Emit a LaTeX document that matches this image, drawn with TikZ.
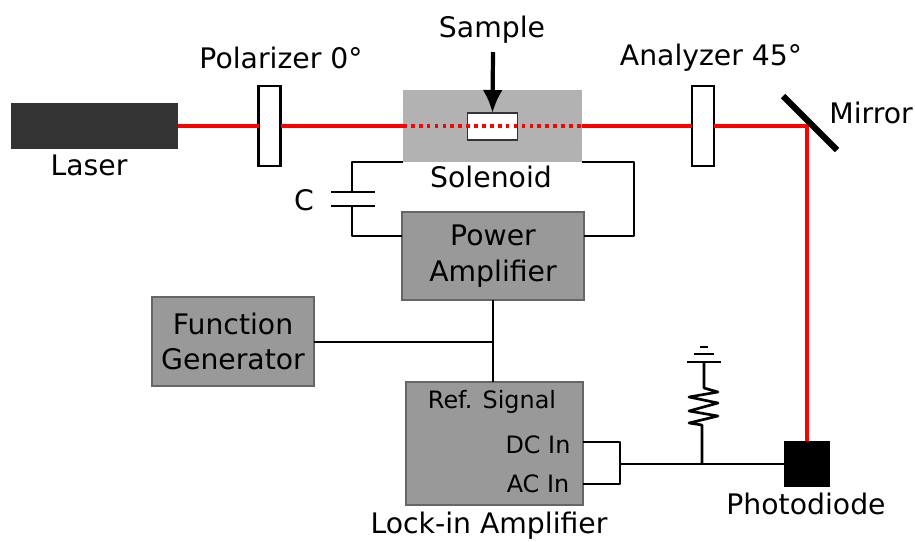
\documentclass[tikz,border=0pt]{standalone}
\usepackage{fontspec}
\usetikzlibrary{arrows.meta}
\setmainfont{DejaVu Sans}
\begin{document}
\begin{tikzpicture}[
  x=0.02cm, y=-0.02cm,
  lbl/.style={inner sep=0pt, align=center, font=\fontsize{16.1pt}{20.4pt}\selectfont},
  smalllbl/.style={inner sep=0pt, font=\fontsize{13.6pt}{16pt}\selectfont},
  graybox/.style={rectangle, draw=black!60, line width=0.6pt, fill=black!40, inner sep=0pt, outer sep=0pt, align=center,
    font=\fontsize{16.1pt}{20.4pt}\selectfont},
  plate/.style={rectangle, draw=black, line width=1.4pt, fill=white, inner sep=0pt, outer sep=0pt,
    minimum width=0.44cm, minimum height=1.6cm},
  beam/.style={red, line width=2.3pt},
  wire/.style={black, line width=1.5pt, line join=round}
]
\useasboundingbox (0,0) rectangle (915,541);

% Laser and optics
\node[rectangle, fill=black!80, inner sep=0pt, outer sep=0pt, minimum width=3.34cm, minimum height=0.92cm] (laser) at (94.5,126) {};
\node[plate] (polarizer) at (269.5,126) {};
\node[rectangle, fill=black!30, inner sep=0pt, outer sep=0pt, minimum width=3.58cm, minimum height=1.46cm] (solenoid) at (492.5,126) {};
\node[rectangle, draw=black!80, line width=1pt, fill=white, inner sep=0pt, outer sep=0pt, minimum width=1.0cm, minimum height=0.54cm] (sample) at (492.5,126.5) {};
\node[plate] (analyzer) at (703,126) {};
\node[rectangle, fill=black, inner sep=0pt, outer sep=0pt, minimum size=0.92cm] (diode) at (807,464) {};

% Electronics
\node[graybox, minimum width=3.64cm, minimum height=1.76cm] (power) at (493,256) {Power\\Amplifier};
\node[graybox, minimum width=3.24cm, minimum height=1.78cm] (funcgen) at (233,341.5) {Function\\Generator};
\node[graybox, minimum width=3.54cm, minimum height=2.46cm] (lockin) at (494.5,443.5) {};

% Beam path
\coordinate (mirrorc) at (807,126);
\draw[beam] (laser.east) -- (polarizer.west);
\draw[beam] (polarizer.east) -- (solenoid.west);
\draw[red, line width=2.1pt, dash pattern=on 2.1pt off 2.4pt] (solenoid.west) -- (solenoid.east);
\draw[beam] (solenoid.east) -- (analyzer.west);
\draw[beam] (analyzer.east) -- (mirrorc) -- (diode.north);

% Mirror
\coordinate (mirrora) at (783,96);
\coordinate (mirrorb) at (837,150);
\draw[black, line width=3.5pt] (mirrora) -- (mirrorb);

% Sample arrow
\coordinate (samplein) at (493,52);
\draw[-{Latex[length=0.46cm,width=0.4cm]}, black, line width=2.4pt] (samplein) -- (sample.north);

% Capacitor loop
\coordinate (solleft) at (403,162);
\coordinate (solright) at (582,162);
\coordinate (powleft) at (402,236);
\coordinate (powright) at (584,236);
\coordinate (capa) at (352,192);
\coordinate (capb) at (352,206);
\draw[wire] (solleft) -| (capa);
\draw[wire] (capb) |- (powleft);
\draw[wire] (331,192) -- (375,192);
\draw[wire] (331,206) -- (375,206);
\draw[wire] (solright) -- (634,162) |- (powright);

% Signal wires
\coordinate (junction) at (493,342);
\coordinate (dcin) at (583,442);
\coordinate (acin) at (583,484);
\coordinate (tee) at (620,464);
\coordinate (rtop) at (702,464);
\draw[wire] (power.south) -- (power.south |- lockin.north);
\draw[wire] (funcgen.east |- junction) -- (junction);
\draw[wire] (dcin) -| (tee) |- (acin);
\draw[wire] (tee) -- (diode.west);

% Resistor and ground
\draw[wire] (rtop) -- (702,425) -- (689,423) -- (718,416) -- (689,411) -- (718,403) -- (689,397) -- (718,392) -- (704,388) -- (704,362);
\draw[wire] (687,362) -- (721,362);
\draw[wire] (694,354) -- (714,354);
\draw[wire] (700,347) -- (708,347);

% Labels
\node[lbl] (laserlbl) at (89,165) {Laser};
\node[lbl] (polarizerlbl) at (281,58) {Polarizer 0°};
\node[lbl] (samplelbl) at (492,30) {Sample};
\node[lbl] (analyzerlbl) at (711,58) {Analyzer 45°};
\node[lbl] (mirrorlbl) at (871,113) {Mirror};
\node[lbl] (solenoidlbl) at (491,177) {Solenoid};
\node[lbl] (clbl) at (304,200) {C};
\node[smalllbl] (reflbl) at (492,402) {Ref. Signal};
\node[smalllbl] (dclbl) at (538,445) {DC In};
\node[smalllbl] (aclbl) at (538,484) {AC In};
\node[lbl] (lockinlbl) at (489,526) {Lock-in Amplifier};
\node[lbl] (diodelbl) at (806,504) {Photodiode};
\end{tikzpicture}
\end{document}
